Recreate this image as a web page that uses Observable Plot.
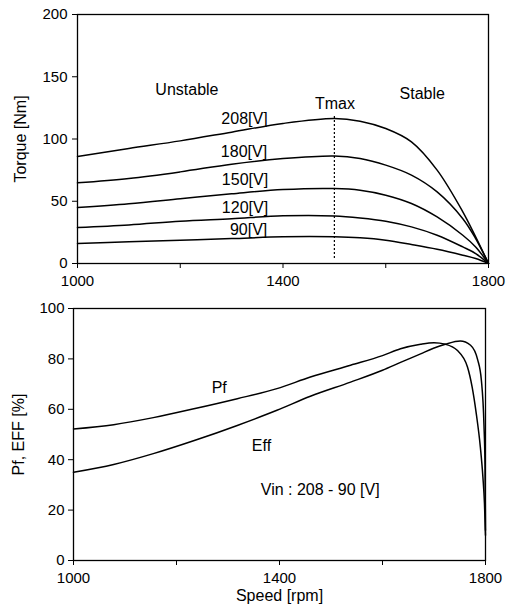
<!DOCTYPE html>
<html>
<head>
<meta charset="utf-8">
<script src="https://cdn.jsdelivr.net/npm/d3@7"></script>
<script src="https://cdn.jsdelivr.net/npm/@observablehq/plot@0.6"></script>
<style>
  html, body { margin: 0; padding: 0; background: #fff; }
  #chart svg { display: block; }
</style>
</head>
<body>
<div id="chart"></div>
<script>
// ---- Top panel: torque vs speed ----
const torqueSpeed = [1000, 1100, 1200, 1300, 1400, 1500, 1550, 1600, 1650, 1700, 1750, 1775, 1800];
const torque208 = [86, 92.4, 98.5, 105.5, 112.5, 116.5, 114.3, 108.4, 97.7, 75, 41.5, 21.4, 0];
const torque180 = [64.8, 68.3, 73.6, 79.8, 84.3, 86.4, 84.3, 79, 71, 57.5, 36, 20, 0];
const torque150 = [45, 48, 52, 56, 59.4, 60.2, 58.9, 54.9, 48.2, 37.4, 22.7, 13.3, 0];
const torque120 = [29, 31, 34, 36, 38.3, 38.2, 36.6, 34, 29.4, 22.7, 13.3, 8, 0];
const torque90 = [16, 17.4, 18.7, 20, 21.4, 21.4, 20.6, 18.7, 15.3, 11.5, 6.7, 4, 0];
const voltageLabels = ["208[V]", "180[V]", "150[V]", "120[V]", "90[V]"];
const voltageLabelX = [1325, 1324, 1326, 1326, 1333];
const voltageLabelY = [116, 89.6, 66.9, 45, 27.3];
const regionLabels = ["Unstable", "Stable", "Tmax"];
const regionLabelX = [1213, 1671, 1501];
const regionLabelY = [139.8, 136.5, 128.5];
const tmaxSpeed = [1500];
const tmaxRange = [4, 119];

// ---- Bottom panel: Pf and Eff vs speed ----
const pfSpeed = [1000, 1078, 1155, 1236, 1318, 1395, 1460, 1538, 1600, 1635, 1674, 1700, 1722, 1745, 1765, 1774, 1782, 1790, 1795, 1798, 1800];
const pfValues = [52.2, 53.9, 56.7, 60.3, 64.2, 68.2, 72.8, 77.5, 81.3, 84.0, 85.8, 86.4, 85.8, 83.4, 76.8, 68.9, 58.4, 45, 33, 22.6, 10];
const effSpeed = [1000, 1078, 1155, 1236, 1318, 1395, 1460, 1538, 1600, 1635, 1674, 1699, 1722, 1751, 1771, 1785, 1792, 1797, 1799, 1800];
const effValues = [35.0, 38.1, 42.4, 47.7, 53.6, 59.6, 65.2, 70.8, 75.5, 78.6, 82.0, 84.2, 85.8, 87.1, 85.4, 79.5, 71.5, 54, 38, 12];
const curveLabels = ["Pf", "Eff", "Vin : 208 - 90 [V]"];
const curveLabelX = [1283, 1365, 1479];
const curveLabelY = [68.6, 45.4, 28.1];

const speedTicks = [1000, 1200, 1400, 1600, 1800];
const speedTickLabels = ["1000", "", "1400", "", "1800"];
const torqueTicks = [0, 50, 100, 150, 200];
const pctTicks = [0, 20, 40, 60, 80, 100];

const font = "Liberation Sans, Arial, Helvetica, sans-serif";
const speedFmt = d => speedTickLabels[speedTicks.indexOf(d)];

const series = [
  [torque208, "208"], [torque180, "180"], [torque150, "150"], [torque120, "120"], [torque90, "90"]
];
const torqueRows = series.flatMap(([vals, v]) => vals.map((t, i) => ({speed: torqueSpeed[i], torque: t, v})));
const vLabelRows = voltageLabels.map((t, i) => ({t, x: voltageLabelX[i], y: voltageLabelY[i]}));
const rLabelRows = regionLabels.map((t, i) => ({t, x: regionLabelX[i], y: regionLabelY[i]}));

const topChart = Plot.plot({
  width: 514, height: 300,
  marginTop: 14, marginBottom: 37, marginLeft: 77, marginRight: 26,
  style: {fontFamily: font, fontSize: "15px", color: "#000", background: "#fff"},
  x: {domain: [1000, 1800]},
  y: {domain: [0, 200]},
  marks: [
    Plot.frame({stroke: "#000", strokeWidth: 1.3}),
    Plot.axisX({ticks: speedTicks, tickFormat: speedFmt, tickSize: 5, tickPadding: 7, label: null, fontSize: 15}),
    Plot.axisY({ticks: torqueTicks, tickSize: 5, tickPadding: 5, tickFormat: d => String(d), fontSize: 15}),
    Plot.axisY({ticks: [], label: "Torque [Nm]", labelAnchor: "center", labelArrow: "none", labelOffset: 63, fontSize: 16}),
    Plot.line(torqueRows, {x: "speed", y: "torque", z: "v", stroke: "#000", strokeWidth: 1.5, curve: "catmull-rom"}),
    Plot.ruleX(tmaxSpeed, {x: d => d, y1: tmaxRange[0], y2: tmaxRange[1], stroke: "#000", strokeWidth: 1.2, strokeDasharray: "2,2"}),
    Plot.text(vLabelRows, {x: "x", y: "y", text: "t", fontSize: 16, fill: "#000"}),
    Plot.text(rLabelRows, {x: "x", y: "y", text: "t", fontSize: 16, fill: "#000"})
  ]
});

const pctRows = [
  ...pfSpeed.map((s, i) => ({speed: s, val: pfValues[i], k: "Pf"})),
  ...effSpeed.map((s, i) => ({speed: s, val: effValues[i], k: "Eff"}))
];
const cLabelRows = curveLabels.map((t, i) => ({t, x: curveLabelX[i], y: curveLabelY[i]}));

const bottomChart = Plot.plot({
  width: 514, height: 307,
  marginTop: 8, marginBottom: 47, marginLeft: 73, marginRight: 29,
  style: {fontFamily: font, fontSize: "15px", color: "#000", background: "#fff"},
  x: {domain: [1000, 1800]},
  y: {domain: [0, 100]},
  marks: [
    Plot.frame({stroke: "#000", strokeWidth: 1.3}),
    Plot.axisX({ticks: speedTicks, tickFormat: speedFmt, tickSize: 5, tickPadding: 7, label: null, fontSize: 15}),
    Plot.axisX({ticks: [], label: "Speed [rpm]", labelAnchor: "center", labelArrow: "none", labelOffset: 40, fontSize: 16}),
    Plot.axisY({ticks: pctTicks, tickSize: 5, tickPadding: 4, tickFormat: d => String(d), fontSize: 15}),
    Plot.axisY({ticks: [], label: "Pf, EFF [%]", labelAnchor: "center", labelArrow: "none", labelOffset: 61, fontSize: 16}),
    Plot.line(pctRows, {x: "speed", y: "val", z: "k", stroke: "#000", strokeWidth: 1.5, curve: "monotone-x"}),
    Plot.text(cLabelRows, {x: "x", y: "y", text: "t", fontSize: 16, fill: "#000"})
  ]
});

document.getElementById("chart").append(topChart, bottomChart);
</script>
</body>
</html>
